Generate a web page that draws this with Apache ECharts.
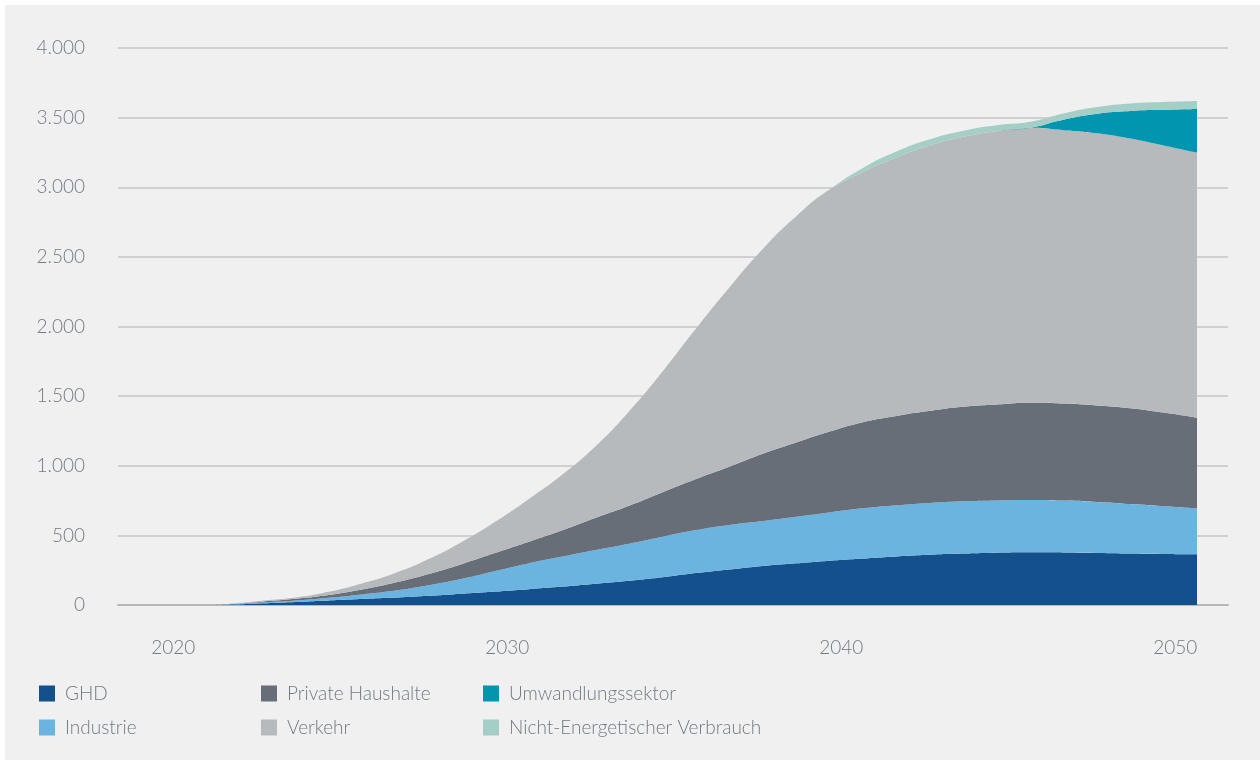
<!DOCTYPE html>
<html>
<head>
<meta charset="utf-8">
<script src="https://cdn.jsdelivr.net/npm/echarts@6/dist/echarts.min.js"></script>
<style>
  html, body { margin:0; padding:0; width:1260px; height:762px; background:#ffffff; overflow:hidden; }
  #bg { position:absolute; left:5px; top:5px; right:0; bottom:2px; background:#f0f0f0; }
  #chart { position:absolute; left:0; top:0; width:1260px; height:762px; }
</style>
</head>
<body>
<div id="bg"></div>
<div id="chart"></div>
<script>
// ---- data ----
const years = [2018,2019,2020,2021,2022,2023,2024,2025,2026,2027,2028,2029,2030,2031,2032,2033,2034,2035,2036,2037,2038,2039,2040,2041,2042,2043,2044,2045,2046,2047,2048,2049,2050];
const ghd          = [0,0,0,2,12,22,33,43,53,66,81,97,114,132,153,175,200,229,255,280,299,318,334,349,361,369,375,378,377,374,370,367,364];
const industrie    = [0,0,0,2,6,10,19,33,51,76,107,147,186,216,242,265,290,309,320,323,335,347,360,367,372,376,376,376,373,366,355,343,330];
const haushalte    = [0,0,0,2,6,12,20,36,58,81,107,131,155,189,232,273,320,367,418,483,533,581,619,642,662,679,689,699,697,693,688,672,651];
const verkehr      = [0,0,0,2,6,9,23,43,68,107,160,225,307,400,515,679,867,1080,1287,1470,1624,1737,1797,1856,1904,1938,1963,1974,1963,1955,1937,1918,1903];
const umwandlung   = [0,0,0,0,0,0,0,0,0,0,0,0,0,0,0,0,0,0,0,0,0,0,0,0,0,0,0,0,75,140,198,256,314];
const nichtEnerg   = [0,0,0,0,0,0,0,0,0,0,0,0,0,0,0,0,0,0,0,0,0,0,28,42,45,44,43,43,45,48,54,56,57];
const seriesNames  = ['GHD','Industrie','Private Haushalte','Verkehr','Umwandlungssektor','Nicht-Energetischer Verbrauch'];
const xTickLabels  = ['2020','2030','2040','2050'];

const colors = ['#14508c','#6cb4e0','#676e78','#b7babd','#0096b0','#a5cfc6'];
const seriesData = [ghd, industrie, haushalte, verkehr, umwandlung, nichtEnerg];

// label positions on the year scale (labels sit 0.65 years before the data year)
const labelPos = [2019.35, 2029.35, 2039.35, 2049.35];

function fmtDE(v){
  return String(v).replace(/\B(?=(\d{3})+(?!\d))/g, '.');
}

const FONT = 'Lato';
const TXT = '#737a82';

const chart = echarts.init(document.getElementById('chart'), null, {renderer:'canvas'});
const legendBase = {
  orient:'vertical', icon:'rect', itemWidth:16, itemHeight:16, itemGap:15,
  selectedMode:false,
  textStyle:{ fontFamily:FONT, fontWeight:300, fontSize:19, color:TXT, padding:[0,0,0,5] }
};
chart.setOption({
  animation:false,
  backgroundColor:'transparent',
  color: colors,
  grid:{ left:118, right:32, top:48, bottom:157, containLabel:false },
  legend:[
    Object.assign({}, legendBase, { left:34, top:679, data:[seriesNames[0], seriesNames[1]] }),
    Object.assign({}, legendBase, { left:256, top:679, data:[seriesNames[2], seriesNames[3]] }),
    Object.assign({}, legendBase, { left:478, top:679, data:[seriesNames[4], seriesNames[5]] })
  ],
  xAxis:{
    type:'value', min:2017.695, max:2050.928,
    axisLine:{ show:true, lineStyle:{ color:'#b5b8bb', width:2 } },
    axisTick:{ show:false },
    splitLine:{ show:false },
    axisLabel:{
      customValues: labelPos,
      formatter:(v)=>{ const i = labelPos.findIndex(p=>Math.abs(p-v)<0.01); return i>=0 ? xTickLabels[i] : ''; },
      fontFamily:FONT, fontWeight:300, fontSize:19, color:TXT, margin:33
    }
  },
  yAxis:{
    type:'value', min:0, max:4000, interval:500,
    axisLine:{ show:false }, axisTick:{ show:false },
    splitLine:{ show:true, lineStyle:{ color:'#c6c6c6', width:1.5 } },
    axisLabel:{ formatter:(v)=>fmtDE(v), fontFamily:FONT, fontWeight:300, fontSize:19, color:TXT, margin:33 }
  },
  series: seriesNames.map((name, i)=>({
    name, type:'line', stack:'total', smooth:0.5, showSymbol:false, symbol:'none',
    lineStyle:{ width:0 },
    areaStyle:{ color: colors[i], opacity:1 },
    itemStyle:{ color: colors[i] },
    // value first so that the stack is applied to the value (y) dimension
    encode:{ x:1, y:0 },
    data: years.map((y, k)=>[seriesData[i][k], y])
  }))
});
</script>
</body>
</html>
